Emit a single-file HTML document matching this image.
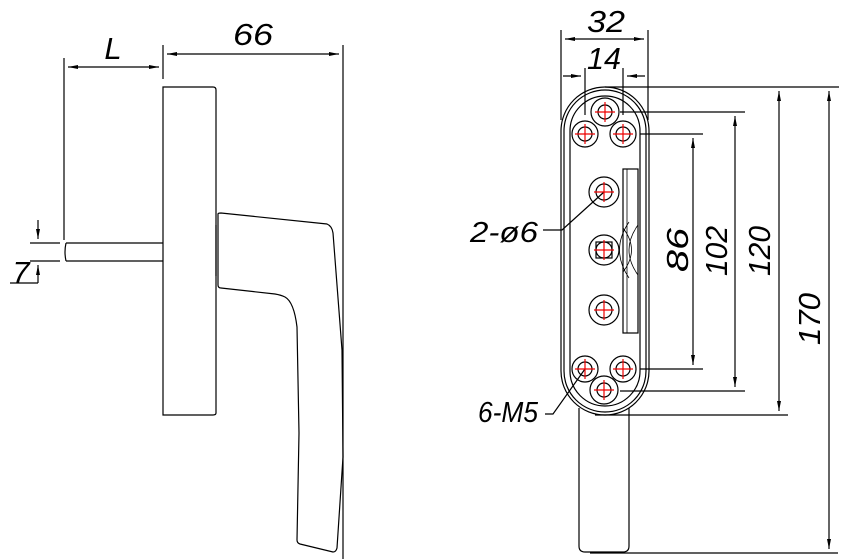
<!DOCTYPE html>
<html><head><meta charset="utf-8"><style>
html,body{margin:0;padding:0;background:#fff;}
svg{display:block}
text{font-family:"Liberation Sans",sans-serif;font-style:italic;fill:#000;}
</style></head><body>
<svg width="854" height="559" viewBox="0 0 854 559" xmlns="http://www.w3.org/2000/svg">
<defs>
<marker id="a" viewBox="0 0 10 4" refX="10" refY="2" markerWidth="10" markerHeight="4" orient="auto-start-reverse" markerUnits="userSpaceOnUse"><path d="M0,0L10,2L0,4Z" fill="#000"/></marker>
</defs>
<g fill="none" stroke="#000" stroke-width="1.2">
<path d="M163,87H213Q216,87 216,90V413Q216,415 213,415H163Z"/>
<path d="M66,243H163M66,261H163M66,243Q64,252 66,261"/>
<path d="M216,225V276"/>
<path d="M218,214Q218,213 221,213L327,224Q332,226 333,233L342,350L343,457L337,548Q336,552 333,552L300,544Q297,543 297,540L299,433L297,327Q294,302 285,297Q281,295 275,294L221,288Q218,288 218,285Z"/>
<path d="M163,45V79M343,45V559M64,58V240"/>
<path d="M167,54H339" marker-start="url(#a)" marker-end="url(#a)"/>
<path d="M68,67H159" marker-start="url(#a)" marker-end="url(#a)"/>
<path d="M30,243H60M30,261H60"/>
<path d="M38,220V239" marker-end="url(#a)"/>
<path d="M38,283V265" marker-end="url(#a)"/>
<path d="M10,283H38"/>
<path d="M561,131A44,44 0 0 1 649,131V371A44,44 0 0 1 561,371Z"/>
<path d="M564,131A41,41 0 0 1 646,131V371A41,41 0 0 1 564,371Z"/>
<path d="M570,131A35,35 0 0 1 640,131V371A35,35 0 0 1 570,371Z"/>
<path d="M579,408V546Q579,552 585,552H623Q629,552 629,546V408"/>
<rect x="623" y="169" width="15" height="164"/>
<path d="M627,169V333M623,228Q640,250 623,272M629,222Q610,250 629,278M638,225Q620,250 638,275" stroke-width="0.8"/>
<circle cx="605" cy="112" r="14"/><circle cx="605" cy="112" r="7"/>
<circle cx="585" cy="134" r="13"/><circle cx="585" cy="134" r="7"/>
<circle cx="623" cy="134" r="13"/><circle cx="623" cy="134" r="7"/>
<circle cx="604" cy="192" r="15"/><circle cx="604" cy="192" r="8"/>
<circle cx="604" cy="250" r="15"/><rect x="596" y="242" width="16" height="16"/><circle cx="604" cy="250" r="8"/>
<circle cx="604" cy="310" r="15"/><circle cx="604" cy="310" r="8"/>
<circle cx="585" cy="369" r="13"/><circle cx="585" cy="369" r="7"/>
<circle cx="623" cy="369" r="13"/><circle cx="623" cy="369" r="7"/>
<circle cx="604" cy="390" r="14"/><circle cx="604" cy="390" r="7"/>
<path d="M561,30V120M648,30V120"/>
<path d="M565,39H644" marker-start="url(#a)" marker-end="url(#a)"/>
<path d="M585,68V115M623,68V115"/>
<path d="M563,76H581" marker-end="url(#a)"/><path d="M645,76H627" marker-end="url(#a)"/>
<path d="M640,134H703M640,369H703M620,112H745M620,391H745M605,87H839M595,415H788M590,553H838"/>
<path d="M693,138V365" marker-start="url(#a)" marker-end="url(#a)"/>
<path d="M735,116V387" marker-start="url(#a)" marker-end="url(#a)"/>
<path d="M779,91V411" marker-start="url(#a)" marker-end="url(#a)"/>
<path d="M829,91V549" marker-start="url(#a)" marker-end="url(#a)"/>
<path d="M543,230L562,230L604,192" />
<path d="M545,414L553,414L585,369"/>
</g>
<g stroke="#e00" stroke-width="1.2">
<path d="M595,112H615M605,102V122M575,134H595M585,124V144M613,134H633M623,124V144M594,192H614M604,182V202M594,250H614M604,240V260M594,310H614M604,300V320M575,369H595M585,359V379M613,369H633M623,359V379M594,390H614M604,380V400"/>
</g>
<g font-size="31">
<text x="253" y="45" text-anchor="middle" textLength="40" lengthAdjust="spacingAndGlyphs">66</text>
<text x="113" y="59" text-anchor="middle">L</text>
<text x="21" y="283" text-anchor="middle">7</text>
<text x="606" y="32" text-anchor="middle" textLength="38" lengthAdjust="spacingAndGlyphs">32</text>
<text x="604" y="69" text-anchor="middle" textLength="34" lengthAdjust="spacingAndGlyphs">14</text>
<text x="470" y="242" font-size="29" textLength="68" lengthAdjust="spacingAndGlyphs">2-ø6</text>
<text x="478" y="422" font-size="29" textLength="60" lengthAdjust="spacingAndGlyphs">6-M5</text>
<text transform="translate(688,250) rotate(-90)" text-anchor="middle" textLength="44" lengthAdjust="spacingAndGlyphs">86</text>
<text transform="translate(727,251) rotate(-90)" text-anchor="middle" textLength="50" lengthAdjust="spacingAndGlyphs">102</text>
<text transform="translate(770,251) rotate(-90)" text-anchor="middle" textLength="50" lengthAdjust="spacingAndGlyphs">120</text>
<text transform="translate(820,319) rotate(-90)" text-anchor="middle" textLength="52" lengthAdjust="spacingAndGlyphs">170</text>
</g>
</svg>
</body></html>
